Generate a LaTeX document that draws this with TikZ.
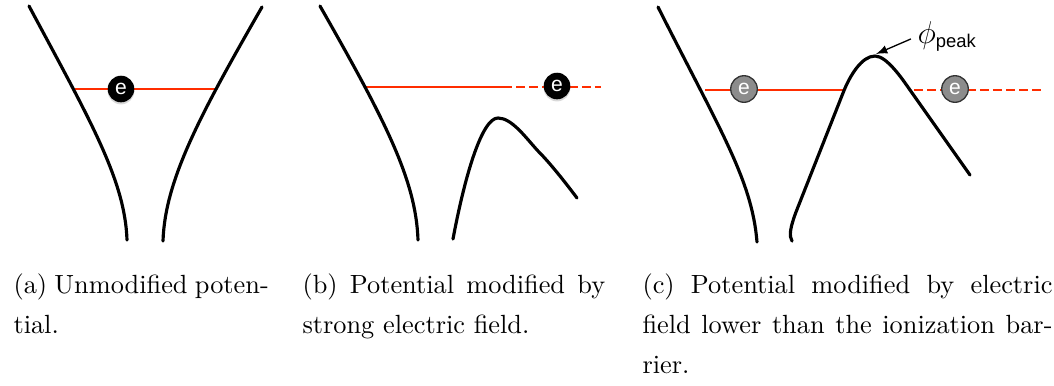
\documentclass[tikz,border=0pt]{standalone}
\usepackage{fontspec}
\newfontfamily\lsans{Liberation Sans}
\usetikzlibrary{shadows}
\definecolor{levelred}{RGB}{255,45,0}
\definecolor{egray}{RGB}{140,140,140}
\tikzset{
  wall/.style={line width=1.2pt, line cap=round},
  level/.style={levelred, line width=1.1pt},
  leveldash/.style={level, dash pattern=on 3.4pt off 1.6pt},
  electron/.style={circle, minimum size=10.1pt, inner sep=0pt, text=white,
    font=\lsans\fontsize{8}{8}\selectfont},
  eblack/.style={electron, fill=black,
    drop shadow={opacity=0.3, shadow xshift=0pt, shadow yshift=-0.8pt}},
  egrey/.style={electron, fill=egray, draw=black!80, line width=0.5pt},
  legend/.style={anchor=base west, inner sep=0pt,
    font=\fontsize{10}{12}\selectfont}
}
\newcommand{\fullline}[2]{\makebox[#1][s]{#2}}
\begin{document}
\begin{tikzpicture}[x=0.38pt,y=-0.38pt]
  \useasboundingbox (0,0) rectangle (1054,385);

  % (a) pozo sin modificar
  \draw[level] (75,89) -- (217,89);
  \draw[wall] (29,6) .. controls (90,120) and (125,180) .. (127,240);
  \draw[wall] (262,7) .. controls (200,115) and (165,180) .. (163,241);
  \node[eblack] (ea) at (121,89) {e};

  % (b) campo fuerte
  \draw[level] (364,87) -- (512,87);
  \draw[leveldash] (516,87) -- (601,87);
  \draw[wall] (320,6) .. controls (385,120) and (416,180) .. (418,240);
  \draw[wall] (453,239) .. controls (465,175) and (482,118) .. (498,118)
    .. controls (512,118) and (526,138) .. (538,151)
    .. controls (550,163) and (565,182) .. (577,198);
  \node[eblack] (eb) at (557,86) {e};

  % (c) campo debil
  \draw[level] (705,90) -- (843,90);
  \draw[leveldash] (914,90) -- (1045,90);
  \draw[wall] (658,7) .. controls (720,130) and (752,180) .. (757,242);
  \draw[wall] (792,241) .. controls (789,236) and (790,228) .. (796,212)
    -- (843,93) .. controls (850,75) and (862,56) .. (875,56)
    .. controls (887,56) and (903,80) .. (910,90) -- (970,175);
  \node[egrey] (ec1) at (744,89) {e};
  \node[egrey] (ec2) at (955,89) {e};

  % Etiqueta del pico
  \node[anchor=base west, inner sep=0pt] (phi) at (917,43)
    {\fontsize{12}{14}\selectfont$\phi_{\mbox{\lsans\fontsize{7}{8}\selectfont peak}}$};
  \coordinate (peak) at (876,54);
  \draw[-latex, line width=0.5pt, shorten <=2.5pt] (phi.west) -- (peak);

  % Leyendas
  \node[legend] (capa1) at (13,293) {\fullline{97pt}{(a) Unmodified poten-}};
  \node[legend] (capa2) at (13,333) {tial.};
  \node[legend] (capb1) at (302,293) {\fullline{115pt}{(b) Potential modified by}};
  \node[legend] (capb2) at (302,333) {strong electric field.};
  \node[legend] (capc1) at (642,293) {\fullline{155.8pt}{(c) Potential modified by electric}};
  \node[legend] (capc2) at (642,333) {\fullline{155.8pt}{field lower than the ionization bar-}};
  \node[legend] (capc3) at (642,373) {rier.};

\end{tikzpicture}
\end{document}
